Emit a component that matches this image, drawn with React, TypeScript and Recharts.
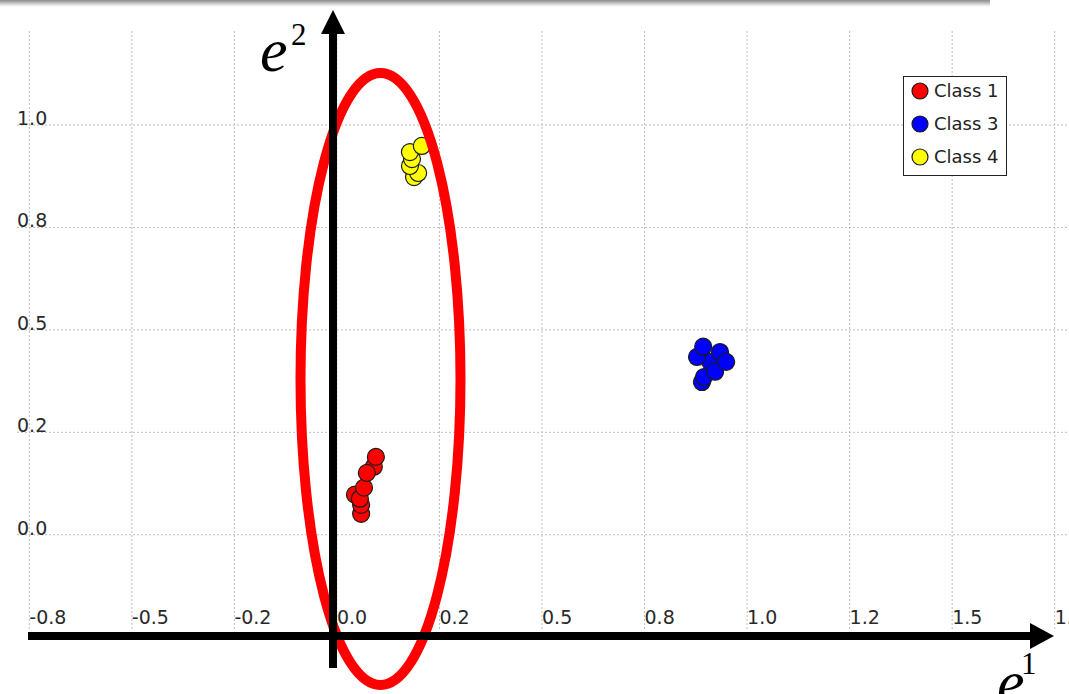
import { ScatterChart, Scatter, XAxis, YAxis, ReferenceLine, Legend } from 'recharts'

// projected samples per class
const class1 = [
  { x: 0.059, y: 0.051 },
  { x: 0.059, y: 0.073 },
  { x: 0.044, y: 0.098 },
  { x: 0.056, y: 0.088 },
  { x: 0.066, y: 0.115 },
  { x: 0.090, y: 0.166 },
  { x: 0.073, y: 0.151 },
  { x: 0.095, y: 0.190 },
]

const class3 = [
  { x: 0.910, y: 0.422 },
  { x: 0.890, y: 0.373 },
  { x: 0.895, y: 0.385 },
  { x: 0.922, y: 0.398 },
  { x: 0.878, y: 0.434 },
  { x: 0.893, y: 0.459 },
  { x: 0.934, y: 0.446 },
  { x: 0.949, y: 0.422 },
]

const class4 = [
  { x: 0.188, y: 0.873 },
  { x: 0.198, y: 0.883 },
  { x: 0.178, y: 0.900 },
  { x: 0.183, y: 0.917 },
  { x: 0.178, y: 0.934 },
  { x: 0.207, y: 0.949 },
]

const xTicks = [-0.75, -0.5, -0.25, 0, 0.25, 0.5, 0.75, 1.0, 1.25, 1.5, 1.75]
const xTickLabels = ['-0.8', '-0.5', '-0.2', '0.0', '0.2', '0.5', '0.8', '1.0', '1.2', '1.5', '1.8']
const yTicks = [0, 0.25, 0.5, 0.75, 1.0]
const yTickLabels = ['0.0', '0.2', '0.5', '0.8', '1.0']

const W = 1069
const H = 694
const gridStroke = '#bdbdbd'
const tickFont = { fontFamily: 'DejaVu Sans', fontSize: 19, fill: '#2a2a2a' }

const dot = (fill: string) => (props: any) => (
  <circle cx={props.cx} cy={props.cy} r={8.5} fill={fill} stroke="#1a1a1a" strokeWidth={1.2} />
)

const XTick = (props: any) => {
  const { x, y, payload } = props
  const label = xTickLabels[xTicks.indexOf(payload.value)]
  return <text x={x} y={y - 5} {...tickFont}>{label}</text>
}

const YTick = (props: any) => {
  const { x, y, payload } = props
  const label = yTickLabels[yTicks.indexOf(payload.value)]
  return <text x={x} y={y} {...tickFont}>{label}</text>
}

const LegendBox = ({ payload }: any) => (
  <div style={{ position: 'relative', width: 104, height: 100, border: '1.5px solid #222', background: '#fff', boxSizing: 'border-box' }}>
    {(payload || []).map((entry: any, i: number) => (
      <div key={entry.value} style={{ position: 'absolute', left: 0, top: 3.5 + i * 33, display: 'flex', alignItems: 'center', height: 20 }}>
        <svg width={30} height={20}>
          <circle cx={16} cy={10} r={8} fill={entry.color} stroke="#1a1a1a" strokeWidth={1.2} />
        </svg>
        <span style={{ fontFamily: 'DejaVu Sans', fontSize: 18, color: '#222', whiteSpace: 'nowrap' }}>{entry.value}</span>
      </div>
    ))}
  </div>
)

// hand-drawn overlay: basis arrows, labels and the highlight ellipse
const Overlay = () => (
  <svg width={W} height={H} style={{ position: 'absolute', left: 0, top: 0, pointerEvents: 'none' }}>
    <defs>
      <linearGradient id="topShade" x1="0" y1="0" x2="0" y2="1">
        <stop offset="0" stopColor="#8c8c8c" />
        <stop offset="0.5" stopColor="#cfcfcf" />
        <stop offset="1" stopColor="#ffffff" stopOpacity={0} />
      </linearGradient>
    </defs>
    <rect x={0} y={0} width={990} height={8} fill="url(#topShade)" />
    <ellipse cx={380.5} cy={379} rx={80} ry={306} fill="none" stroke="#ff0000" strokeWidth={10} />
    <line x1={28} y1={636} x2={1032} y2={636} stroke="#000" strokeWidth={8} />
    <polygon points="1030,623 1054,636 1030,649" fill="#000" />
    <line x1={333} y1={668} x2={333} y2={32} stroke="#000" strokeWidth={8} />
    <polygon points="321,34 333,10 345,34" fill="#000" />
    <text x={260} y={71} fontFamily="Liberation Serif" fontStyle="italic" fontSize={62} fill="#000">e</text>
    <text x={291} y={45} fontFamily="Liberation Serif" fontSize={31} fill="#000">2</text>
    <text x={997} y={703} fontFamily="Liberation Serif" fontStyle="italic" fontSize={62} fill="#000">e</text>
    <text x={1021} y={674} fontFamily="Liberation Serif" fontSize={31} fill="#000">1</text>
  </svg>
)

export default function App() {
  return (
    <div style={{ position: 'absolute', left: 0, top: 0, width: W, height: H, background: '#fff' }}>
      <ScatterChart width={W} height={H} margin={{ top: 30, right: 2, bottom: 64, left: 16 }}>
        {/* dotted grid at each tick */}
        {xTicks.map((t) => (
          <ReferenceLine key={'gx' + t} x={t} stroke={gridStroke} strokeDasharray="2 2" />
        ))}
        {yTicks.map((t) => (
          <ReferenceLine key={'gy' + t} y={t} stroke={gridStroke} strokeDasharray="2 2" />
        ))}
        <XAxis
          type="number"
          dataKey="x"
          domain={[-0.78, 1.78]}
          ticks={xTicks}
          interval={0}
          height={1}
          tickSize={0}
          tickMargin={0}
          axisLine={false}
          tickLine={false}
          tick={XTick}
          allowDataOverflow
        />
        <YAxis
          type="number"
          dataKey="y"
          domain={[-0.23, 1.232]}
          ticks={yTicks}
          interval={0}
          width={1}
          tickSize={0}
          tickMargin={0}
          axisLine={false}
          tickLine={false}
          tick={YTick}
          allowDataOverflow
        />
        <Legend
          layout="vertical"
          align="center"
          verticalAlign="middle"
          content={<LegendBox />}
          wrapperStyle={{ left: 903, top: 76, width: 104 }}
        />
        <Scatter name="Class 1" data={class1} fill="#ff0000" shape={dot('#ff0000')} isAnimationActive={false} />
        <Scatter name="Class 3" data={class3} fill="#0000ff" shape={dot('#0000ff')} isAnimationActive={false} />
        <Scatter name="Class 4" data={class4} fill="#ffff00" shape={dot('#ffff00')} isAnimationActive={false} />
      </ScatterChart>
      <Overlay />
    </div>
  )
}
